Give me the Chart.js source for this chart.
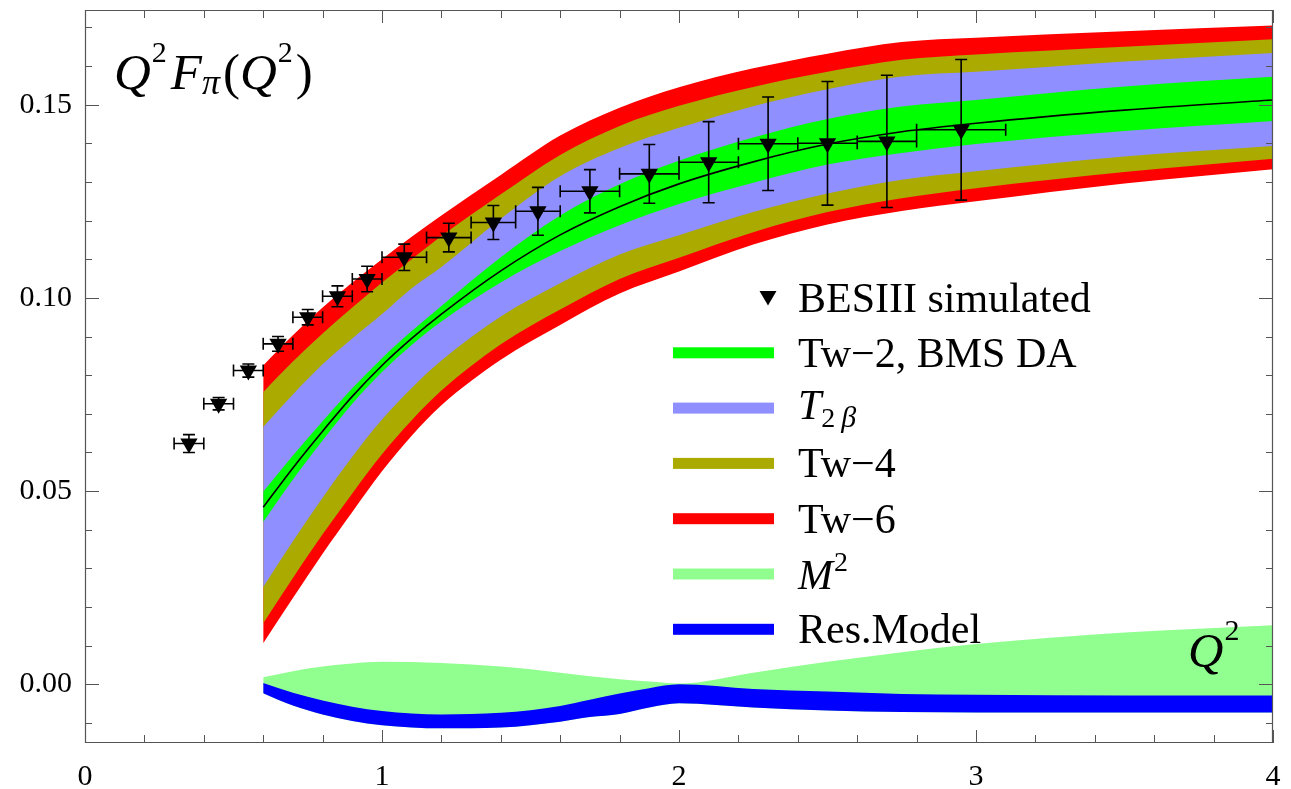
<!DOCTYPE html>
<html>
<head>
<meta charset="utf-8">
<script src="https://cdn.jsdelivr.net/npm/chart.js@4.4.1/dist/chart.umd.min.js"></script>
<style>
html,body{margin:0;padding:0;background:#fff;overflow:hidden}
#wrap{position:relative;width:1291px;height:789px}
</style>
</head>
<body>
<div id="wrap"><canvas id="c" width="1291" height="789"></canvas></div>
<script>
// ---------- data ----------
// BESIII simulated points
const dataQ2   = [0.35, 0.45, 0.55, 0.65, 0.75, 0.85, 0.95, 1.075, 1.225, 1.375, 1.525, 1.70, 1.90, 2.10, 2.30, 2.50, 2.70, 2.95];
const dataF    = [0.0623, 0.0726, 0.0812, 0.0881, 0.0950, 0.1004, 0.1049, 0.1105, 0.1156, 0.1195, 0.1224, 0.1276, 0.1321, 0.1351, 0.1399, 0.1400, 0.1405, 0.1435];
const dataQ2Lo = [0.30, 0.40, 0.50, 0.60, 0.70, 0.80, 0.90, 1.00, 1.15, 1.30, 1.45, 1.60, 1.80, 2.00, 2.20, 2.40, 2.60, 2.80];
const dataQ2Hi = [0.40, 0.50, 0.60, 0.70, 0.80, 0.90, 1.00, 1.15, 1.30, 1.45, 1.60, 1.80, 2.00, 2.20, 2.40, 2.60, 2.80, 3.10];
const dataFErr = [0.0023, 0.0016, 0.0017, 0.0019, 0.0020, 0.0027, 0.0033, 0.0034, 0.0037, 0.0044, 0.0062, 0.0056, 0.0076, 0.0105, 0.0121, 0.0160, 0.0171, 0.0182];

// main bands
const bandX      = [0.6, 0.7, 0.8, 0.9, 1.0, 1.1, 1.2, 1.4, 1.6, 1.8, 2.0, 2.25, 2.5, 2.75, 3.0, 3.5, 4.0];
const tw6Upper   = [0.0825, 0.0903, 0.0975, 0.1040, 0.1100, 0.1158, 0.1213, 0.1318, 0.1420, 0.1492, 0.1545, 0.1594, 0.1632, 0.1662, 0.1673, 0.1690, 0.1705];
const tw4Upper   = [0.0756, 0.0835, 0.0908, 0.0975, 0.1040, 0.1100, 0.1160, 0.1268, 0.1370, 0.1445, 0.1497, 0.1546, 0.1585, 0.1616, 0.1630, 0.1650, 0.1669];
const t2bUpper   = [0.0666, 0.0750, 0.0828, 0.0895, 0.0958, 0.1025, 0.1080, 0.1205, 0.1315, 0.1388, 0.1440, 0.1496, 0.1540, 0.1573, 0.1585, 0.1612, 0.1634];
const tw2Upper   = [0.0498, 0.0592, 0.0681, 0.0766, 0.0844, 0.0914, 0.0979, 0.1105, 0.1213, 0.1294, 0.1355, 0.1415, 0.1463, 0.1495, 0.1512, 0.1547, 0.1572];
const centralLine= [0.0458, 0.0560, 0.0655, 0.0745, 0.0825, 0.0895, 0.0958, 0.1070, 0.1163, 0.1236, 0.1295, 0.1352, 0.1398, 0.1430, 0.1452, 0.1486, 0.1512];
const tw2Lower   = [0.0420, 0.0530, 0.0631, 0.0726, 0.0808, 0.0878, 0.0939, 0.1040, 0.1121, 0.1188, 0.1243, 0.1298, 0.1345, 0.1375, 0.1398, 0.1432, 0.1458];
const t2bLower   = [0.0252, 0.0370, 0.0483, 0.0589, 0.0685, 0.0767, 0.0838, 0.0952, 0.1038, 0.1112, 0.1162, 0.1222, 0.1270, 0.1306, 0.1328, 0.1366, 0.1393];
const tw4Lower   = [0.0158, 0.0275, 0.0388, 0.0494, 0.0595, 0.0683, 0.0760, 0.0880, 0.0970, 0.1049, 0.1104, 0.1170, 0.1222, 0.1258, 0.1284, 0.1326, 0.1360];
const tw6Lower   = [0.0106, 0.0223, 0.0338, 0.0446, 0.0551, 0.0643, 0.0722, 0.0840, 0.0930, 0.1011, 0.1068, 0.1138, 0.1190, 0.1225, 0.1250, 0.1296, 0.1333];

// small bands near zero
const lowX     = [0.6, 0.7, 0.8, 0.9, 1.0, 1.2, 1.4, 1.6, 1.7, 1.8, 1.9, 2.0, 2.25, 2.5, 2.75, 3.0, 3.5, 4.0];
const m2Upper  = [0.0018, 0.0034, 0.0046, 0.0054, 0.0058, 0.0055, 0.0046, 0.0030, 0.0021, 0.0013, 0.0007, 0.0002, 0.0030, 0.0058, 0.0083, 0.0104, 0.0134, 0.0153];
const resUpper = [0.0003, -0.0022, -0.0042, -0.0058, -0.0069, -0.0078, -0.0074, -0.0056, -0.0040, -0.0024, -0.0010, 0.0000, -0.0012, -0.0019, -0.0025, -0.0027, -0.0029, -0.0029];
const resLower = [-0.0023, -0.0055, -0.0078, -0.0095, -0.0106, -0.0114, -0.0112, -0.0097, -0.0085, -0.0077, -0.0060, -0.0049, -0.0060, -0.0068, -0.0072, -0.0073, -0.0073, -0.0073];

// axes
const xTicksMajor = [0, 1, 2, 3, 4];
const xTickLabels = ['0', '1', '2', '3', '4'];
const xTicksMinor = [0.2, 0.4, 0.6, 0.8, 1.2, 1.4, 1.6, 1.8, 2.2, 2.4, 2.6, 2.8, 3.2, 3.4, 3.6, 3.8];
const yTicksMajor = [0, 0.05, 0.10, 0.15];
const yTickLabels = ['0.00', '0.05', '0.10', '0.15'];
const yTicksMinor = [-0.01, 0.01, 0.02, 0.03, 0.04, 0.06, 0.07, 0.08, 0.09, 0.11, 0.12, 0.13, 0.14, 0.16, 0.17];

// legend entries
const legendLabels = ['BESIII simulated', 'Tw\u22122, BMS DA', 'T2\u03b2', 'Tw\u22124', 'Tw\u22126', 'M2', 'Res.Model'];

// ---------- styling ----------
const FONT = '"Liberation Serif", "Times New Roman", serif';
const C_RED = '#ff0000', C_OLIVE = '#aaaa00', C_BLUE = '#8f8fff', C_GREEN = '#00ff00', C_M2 = '#90ff90', C_RES = '#0000ff';

const pts = (xs, ys) => xs.map((x, i) => ({x: x, y: ys[i]}));
function bandPair(xs, upper, lower, color, order) {
  const common = {showLine: true, pointRadius: 0, pointHoverRadius: 0, borderWidth: 0,
    borderColor: 'rgba(0,0,0,0)', cubicInterpolationMode: 'monotone', order: order};
  return [
    Object.assign({}, common, {data: pts(xs, upper), backgroundColor: color, fill: '+1'}),
    Object.assign({}, common, {data: pts(xs, lower), fill: false})
  ];
}

const datasets = [
  {label: 'BESIII simulated', data: pts(dataQ2, dataF), pointStyle: 'triangle', rotation: 180,
   pointRadius: 10, pointHoverRadius: 10, backgroundColor: '#000', borderColor: '#000', borderWidth: 0, showLine: false, order: 0},
  {label: 'central', data: pts(bandX, centralLine), showLine: true, pointRadius: 0, borderColor: '#000',
   borderWidth: 1.6, cubicInterpolationMode: 'monotone', fill: false, order: 1},
  ...bandPair(bandX, tw2Upper, tw2Lower, C_GREEN, 2),
  ...bandPair(bandX, t2bUpper, t2bLower, C_BLUE, 3),
  ...bandPair(bandX, tw4Upper, tw4Lower, C_OLIVE, 4),
  ...bandPair(bandX, tw6Upper, tw6Lower, C_RED, 5),
  ...bandPair(lowX, resUpper, resLower, C_RES, 6),
  ...bandPair(lowX, m2Upper, resLower, C_M2, 7)
];

// ---------- helpers ----------
function richText(ctx, x, baseline, parts) {
  let cx = x;
  parts.forEach(p => {
    ctx.font = (p.italic ? 'italic ' : '') + p.size + 'px ' + FONT;
    cx += (p.dx || 0);
    ctx.fillText(p.t, cx, baseline + (p.dy || 0));
    cx += ctx.measureText(p.t).width;
  });
}

const errorBars = {
  id: 'errorBars',
  afterDatasetsDraw(chart) {
    const {ctx, scales: {x, y}} = chart;
    ctx.save();
    ctx.strokeStyle = '#000';
    ctx.lineWidth = 1.6;
    const cap = 6;
    ctx.beginPath();
    for (let i = 0; i < dataQ2.length; i++) {
      const px = x.getPixelForValue(dataQ2[i]);
      const py = y.getPixelForValue(dataF[i]);
      const xl = x.getPixelForValue(dataQ2Lo[i]);
      const xr = x.getPixelForValue(dataQ2Hi[i]);
      const yt = y.getPixelForValue(dataF[i] + dataFErr[i]);
      const yb = y.getPixelForValue(dataF[i] - dataFErr[i]);
      ctx.moveTo(xl, py); ctx.lineTo(xr, py);
      ctx.moveTo(xl, py - cap); ctx.lineTo(xl, py + cap);
      ctx.moveTo(xr, py - cap); ctx.lineTo(xr, py + cap);
      ctx.moveTo(px, yt); ctx.lineTo(px, yb);
      ctx.moveTo(px - cap, yt); ctx.lineTo(px + cap, yt);
      ctx.moveTo(px - cap, yb); ctx.lineTo(px + cap, yb);
    }
    ctx.stroke();
    ctx.restore();
  }
};

const frameTicks = {
  id: 'frameTicks',
  afterDatasetsDraw(chart) {
    const {ctx, chartArea: a, scales: {x, y}} = chart;
    ctx.save();
    ctx.strokeStyle = '#555';
    ctx.lineWidth = 1.2;
    ctx.beginPath();
    ctx.rect(a.left + 0.5, a.top + 0.5, a.right - a.left - 1, a.bottom - a.top - 1);
    ctx.stroke();
    ctx.lineWidth = 1;
    ctx.beginPath();
    const xt = (v, len) => {
      const p = Math.round(x.getPixelForValue(v)) + 0.5;
      ctx.moveTo(p, a.bottom); ctx.lineTo(p, a.bottom - len);
      ctx.moveTo(p, a.top); ctx.lineTo(p, a.top + len);
    };
    const yt = (v, len) => {
      const p = Math.round(y.getPixelForValue(v)) + 0.5;
      ctx.moveTo(a.left, p); ctx.lineTo(a.left + len, p);
      ctx.moveTo(a.right, p); ctx.lineTo(a.right - len, p);
    };
    xTicksMajor.forEach(v => xt(v, 13));
    xTicksMinor.forEach(v => xt(v, 8));
    yTicksMajor.forEach(v => yt(v, 14));
    yTicksMinor.forEach(v => yt(v, 7));
    ctx.stroke();
    ctx.restore();
  }
};

const annotations = {
  id: 'annotations',
  afterDatasetsDraw(chart) {
    const {ctx} = chart;
    ctx.save();
    ctx.fillStyle = '#000';
    ctx.textBaseline = 'alphabetic';
    ctx.textAlign = 'left';
    // title
    richText(ctx, 114, 89, [
      {t: 'Q', italic: true, size: 51},
      {t: '2', size: 30, dy: -27, dx: 1},
      {t: 'F', italic: true, size: 51, dx: 4},
      {t: '\u03c0', italic: true, size: 36, dy: 5},
      {t: '(', size: 51, dx: 3},
      {t: 'Q', italic: true, size: 51},
      {t: '2', size: 30, dy: -27, dx: 1},
      {t: ')', size: 51, dx: 3}
    ]);
    // Q^2 axis label
    richText(ctx, 1188, 667, [
      {t: 'Q', italic: true, size: 49},
      {t: '2', size: 30, dy: -27, dx: 1}
    ]);
    // legend
    const lx0 = 673, lx1 = 774, tx = 798, row0 = 297.5, dyRow = 55.3;
    const swatch = [null, C_GREEN, C_BLUE, C_OLIVE, C_RED, C_M2, C_RES];
    for (let i = 0; i < legendLabels.length; i++) {
      const cy = row0 + i * dyRow;
      if (i === 0) {
        ctx.beginPath();
        ctx.moveTo(759.5, cy - 6.5); ctx.lineTo(776.5, cy - 6.5); ctx.lineTo(768, cy + 8);
        ctx.closePath(); ctx.fill();
      } else {
        ctx.fillStyle = swatch[i];
        ctx.fillRect(lx0, cy - 5.5, lx1 - lx0, 11);
        ctx.fillStyle = '#000';
      }
      const lab = legendLabels[i];
      if (i === 2) {
        richText(ctx, tx, cy + 11, [
          {t: lab[0], italic: true, size: 42},
          {t: lab[1], size: 28, dy: 8, dx: 0},
          {t: lab[2], italic: true, size: 30, dy: 8, dx: 6}
        ]);
      } else if (i === 5) {
        richText(ctx, tx, cy + 14.5, [
          {t: lab[0], italic: true, size: 42},
          {t: lab[1], size: 28, dy: -18, dx: 1}
        ]);
      } else {
        ctx.font = '42px ' + FONT;
        ctx.fillText(lab, tx, cy + 14);
      }
    }
    ctx.restore();
  }
};

Chart.defaults.font.family = FONT;
new Chart(document.getElementById('c'), {
  type: 'scatter',
  data: {datasets: datasets},
  options: {
    responsive: false,
    devicePixelRatio: 1,
    animation: false,
    events: [],
    layout: {padding: {top: 9, right: 18, left: 0, bottom: 0}},
    plugins: {legend: {display: false}, tooltip: {enabled: false}, title: {display: false},
              filler: {propagate: false}},
    scales: {
      x: {
        type: 'linear', min: 0, max: 4,
        afterBuildTicks: s => { s.ticks = xTicksMajor.map(v => ({value: v})); },
        afterFit: s => { s.height = 46; s.paddingLeft = 0; s.paddingRight = 0; },
        ticks: {autoSkip: false, maxRotation: 0, padding: 16, color: '#000',
                font: {family: FONT, size: 30}, callback: (v, i) => xTickLabels[i]},
        grid: {display: false, drawTicks: false},
        border: {display: false}
      },
      y: {
        type: 'linear', min: -0.0152, max: 0.1745,
        afterBuildTicks: s => { s.ticks = yTicksMajor.map(v => ({value: v})); },
        afterFit: s => { s.width = 85; s.paddingTop = 0; s.paddingBottom = 0; },
        ticks: {autoSkip: false, padding: 13, color: '#000',
                font: {family: FONT, size: 30}, callback: (v, i) => yTickLabels[i]},
        grid: {display: false, drawTicks: false},
        border: {display: false}
      }
    }
  },
  plugins: [errorBars, frameTicks, annotations]
});
</script>
</body>
</html>
